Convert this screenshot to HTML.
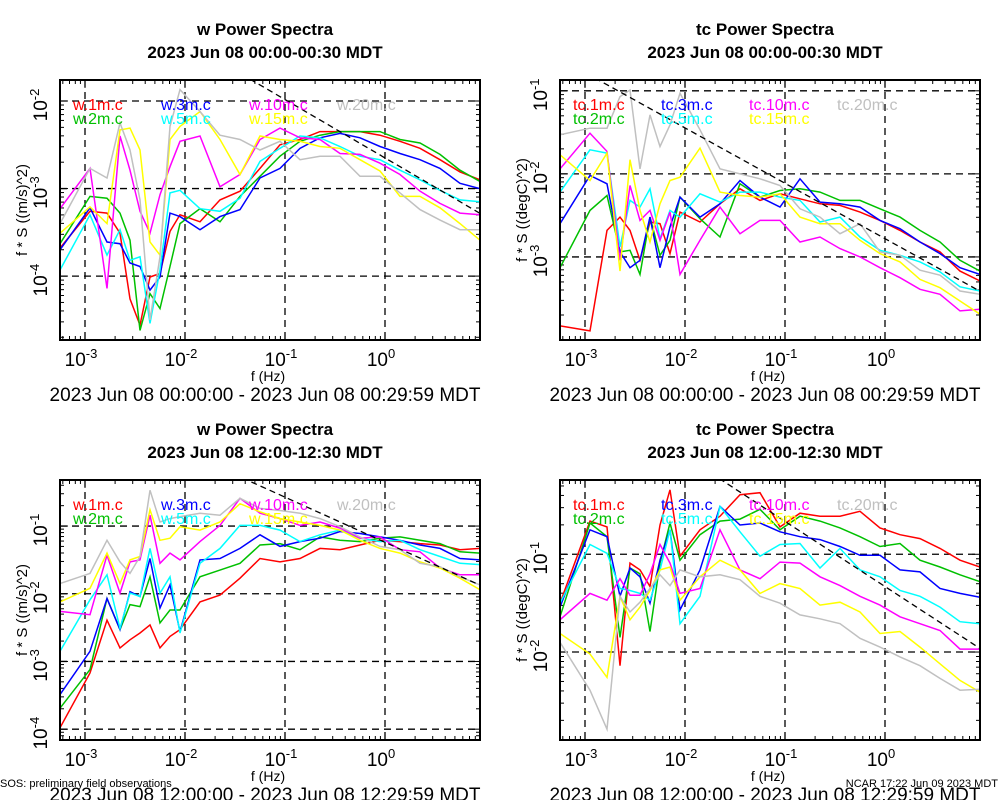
<!DOCTYPE html>
<html><head><meta charset="utf-8"><style>
body{margin:0;background:#fff;}
svg{display:block;font-family:"Liberation Sans",Arial,sans-serif;}
</style></head><body>
<svg id="chart" width="1000" height="800" viewBox="0 0 1000 800" xmlns="http://www.w3.org/2000/svg"></svg>
<script>
// frequency bins, log10(f / Hz)
const freqLog10 = [-3.25,-2.95,-2.78,-2.65,-2.55,-2.45,-2.35,-2.25,-2.15,-2.05,-1.85,-1.65,-1.45,-1.25,-1.05,-0.85,-0.65,-0.45,-0.25,-0.05,0.15,0.35,0.55,0.75,0.95];
const seriesNames = ["1m","2m","3m","5m","10m","15m","20m"];
const seriesColors = ["#ff0000","#00c000","#0000ff","#00ffff","#ff00ff","#ffff00","#c0c0c0"];
const xTickExps = [-3,-2,-1,0];

// Panel 1: w 00:00 (log10 of f*S)
const w00_1m  = [-3.68,-3.26,-3.28,-3.51,-4.26,-4.56,-4.01,-3.97,-3.49,-3.30,-3.38,-3.13,-3.03,-2.77,-2.50,-2.44,-2.35,-2.35,-2.35,-2.39,-2.46,-2.54,-2.67,-2.81,-2.90];
const w00_2m  = [-3.63,-3.09,-3.11,-3.28,-3.59,-4.62,-4.20,-4.37,-3.89,-3.40,-3.23,-3.38,-3.09,-2.86,-2.63,-2.46,-2.39,-2.35,-2.35,-2.35,-2.44,-2.48,-2.61,-2.79,-2.92];
const w00_3m  = [-3.70,-3.22,-3.61,-3.63,-3.85,-3.89,-4.16,-4.01,-3.28,-3.32,-3.47,-3.32,-3.24,-2.88,-2.77,-2.54,-2.42,-2.37,-2.42,-2.52,-2.60,-2.67,-2.77,-2.94,-3.00];
const w00_5m  = [-3.93,-3.30,-3.76,-3.47,-3.82,-3.78,-4.54,-3.93,-3.05,-3.02,-3.23,-3.26,-3.11,-2.69,-2.54,-2.40,-2.42,-2.52,-2.63,-2.67,-2.79,-2.90,-3.02,-3.13,-3.15];
const w00_10m = [-3.23,-2.77,-4.14,-2.40,-2.79,-3.26,-3.51,-3.07,-2.75,-2.46,-2.40,-2.98,-2.84,-2.44,-2.31,-2.42,-2.44,-2.60,-2.61,-2.71,-2.84,-3.03,-3.17,-3.28,-3.30];
const w00_15m = [-3.51,-3.21,-3.40,-2.33,-2.31,-2.56,-3.61,-3.76,-2.44,-2.29,-2.12,-2.44,-2.84,-2.40,-2.44,-2.46,-2.52,-2.54,-2.67,-2.80,-3.09,-3.09,-3.22,-3.40,-3.59];
const w00_20m = [-3.40,-2.77,-2.88,-2.25,-2.56,-3.13,-4.50,-3.78,-2.29,-1.87,-2.12,-2.39,-2.44,-2.56,-2.46,-2.67,-2.63,-2.63,-2.86,-2.86,-3.05,-3.24,-3.36,-3.47,-3.47];
// Panel 2: tc 00:00
const tc00_1m  = [-3.83,-3.89,-2.68,-2.52,-2.68,-3.04,-2.58,-2.60,-2.96,-2.46,-2.58,-2.36,-2.18,-2.32,-2.24,-2.30,-2.36,-2.38,-2.46,-2.56,-2.68,-2.82,-2.94,-3.17,-3.29];
const tc00_2m  = [-3.13,-2.44,-2.26,-2.94,-2.92,-3.21,-2.52,-2.98,-2.80,-2.28,-2.54,-2.76,-2.12,-2.28,-2.20,-2.18,-2.22,-2.32,-2.32,-2.42,-2.52,-2.68,-2.82,-3.04,-3.17];
const tc00_3m  = [-2.60,-2.02,-2.12,-2.94,-3.13,-3.04,-2.52,-3.13,-2.64,-2.28,-2.52,-2.36,-2.08,-2.28,-2.40,-2.06,-2.34,-2.36,-2.40,-2.56,-2.66,-2.82,-2.96,-3.13,-3.21];
const tc00_5m  = [-2.22,-1.71,-1.75,-2.88,-2.32,-2.40,-2.18,-2.78,-2.44,-2.52,-2.24,-2.34,-2.22,-2.22,-2.28,-2.32,-2.58,-2.52,-2.76,-2.92,-2.98,-3.06,-3.18,-3.36,-3.41];
const tc00_10m = [-1.94,-1.51,-1.73,-3.04,-2.14,-2.56,-2.44,-2.80,-2.46,-3.21,-2.80,-2.40,-2.72,-2.56,-2.56,-2.82,-2.76,-2.90,-3.00,-3.13,-3.25,-3.39,-3.45,-3.65,-3.63];
const tc00_15m = [-1.77,-2.08,-1.75,-3.17,-1.83,-2.44,-2.82,-2.36,-2.08,-2.04,-1.69,-2.22,-2.26,-2.28,-2.24,-2.52,-2.60,-2.60,-2.80,-2.96,-3.06,-3.27,-3.37,-3.53,-3.69];
const tc00_20m = [-1.53,-1.45,-1.45,-1.07,-0.99,-1.94,-1.29,-1.67,-1.41,-1.03,-1.47,-1.94,-2.00,-2.06,-2.14,-2.42,-2.52,-2.72,-2.60,-2.94,-2.98,-3.16,-3.22,-3.41,-3.45];
// Panel 3: w 12:00
const w12_1m  = [-3.98,-3.17,-2.39,-2.80,-2.68,-2.58,-2.46,-2.80,-2.63,-2.53,-2.12,-2.02,-1.77,-1.48,-1.53,-1.48,-1.33,-1.35,-1.28,-1.21,-1.23,-1.26,-1.28,-1.35,-1.33];
const w12_2m  = [-3.69,-3.12,-2.07,-2.53,-2.16,-2.19,-1.75,-2.43,-2.24,-2.24,-1.75,-1.65,-1.55,-1.28,-1.26,-1.35,-1.16,-1.21,-1.23,-1.18,-1.16,-1.21,-1.26,-1.38,-1.40];
const w12_3m  = [-3.49,-2.85,-2.07,-2.53,-1.97,-2.04,-1.48,-2.21,-1.87,-2.56,-1.50,-1.48,-1.33,-1.13,-1.30,-1.23,-1.18,-1.08,-1.11,-1.16,-1.21,-1.28,-1.33,-1.48,-1.50];
const w12_5m  = [-2.85,-2.09,-1.72,-2.51,-1.99,-2.04,-1.33,-1.99,-1.75,-2.58,-1.55,-1.33,-0.99,-0.99,-1.06,-1.23,-1.13,-1.06,-1.18,-1.23,-1.21,-1.35,-1.45,-1.55,-1.57];
const w12_10m = [-2.26,-2.31,-1.43,-1.99,-1.53,-1.50,-0.84,-1.55,-1.40,-1.50,-1.23,-0.99,-0.59,-0.81,-0.89,-0.99,-0.94,-1.03,-1.18,-1.16,-1.35,-1.38,-1.62,-1.72,-1.72];
const w12_15m = [-2.12,-1.92,-1.40,-1.85,-1.50,-1.45,-0.76,-1.21,-1.18,-1.01,-1.06,-0.94,-0.67,-0.79,-0.89,-0.94,-0.99,-1.06,-1.21,-1.33,-1.40,-1.53,-1.62,-1.77,-1.94];
const w12_20m = [-1.85,-1.70,-1.21,-1.53,-1.70,-1.45,-0.47,-0.94,-0.89,-0.86,-0.81,-0.84,-0.59,-0.74,-0.77,-0.81,-0.89,-1.01,-1.16,-1.30,-1.35,-1.55,-1.60,-1.75,-1.87];
// Panel 4: tc 12:00
const tc12_1m  = [-1.50,-0.66,-0.72,-2.14,-1.09,-1.16,-1.33,-0.70,-0.34,-1.02,-0.75,-0.61,-0.39,-0.37,-0.72,-0.58,-0.61,-0.61,-0.56,-0.73,-0.80,-0.84,-0.94,-1.06,-1.13];
const tc12_2m  = [-1.64,-0.68,-0.82,-1.85,-1.14,-1.20,-1.79,-1.09,-0.68,-1.06,-0.80,-0.66,-0.64,-0.54,-0.75,-0.61,-0.66,-0.73,-0.82,-0.92,-0.89,-1.06,-1.13,-1.21,-1.28];
const tc12_3m  = [-1.54,-0.75,-0.82,-1.43,-1.14,-1.23,-1.50,-1.06,-0.75,-1.57,-1.16,-0.51,-0.70,-0.68,-0.77,-0.82,-0.85,-0.92,-1.01,-1.01,-1.16,-1.18,-1.35,-1.40,-1.44];
const tc12_5m  = [-1.50,-0.90,-0.99,-1.35,-1.37,-1.40,-1.47,-1.16,-0.75,-1.71,-1.43,-0.51,-0.77,-1.02,-0.90,-0.89,-1.14,-0.94,-1.16,-1.23,-1.37,-1.43,-1.54,-1.69,-1.71];
const tc12_10m = [-1.67,-1.40,-1.47,-1.25,-1.42,-1.42,-1.20,-0.90,-1.09,-1.40,-1.35,-0.75,-1.16,-1.25,-1.08,-1.09,-1.23,-1.32,-1.43,-1.52,-1.64,-1.71,-1.78,-1.97,-1.97];
const tc12_15m = [-1.81,-2.02,-2.26,-1.43,-1.67,-1.54,-1.37,-1.16,-1.13,-1.47,-1.23,-1.06,-1.16,-1.40,-1.30,-1.35,-1.52,-1.49,-1.59,-1.81,-1.79,-1.95,-2.12,-2.29,-2.41];
const tc12_20m = [-1.90,-2.39,-2.79,-1.43,-1.59,-1.49,-1.35,-1.21,-1.32,-1.16,-1.23,-1.21,-1.26,-1.43,-1.50,-1.62,-1.66,-1.71,-1.86,-1.95,-2.05,-2.14,-2.27,-2.39,-2.38];
// -2/3 reference line intercepts (log10 at f=1Hz)
const refIntercepts = [-2.65,-2.78,-1.24,-1.33];

const NS="http://www.w3.org/2000/svg";
const svg=document.getElementById('chart');
function mk(tag,attrs,parent){const e=document.createElementNS(NS,tag);for(const k in attrs)e.setAttribute(k,attrs[k]);(parent||svg).appendChild(e);return e;}

const panels=[
 {var:"w",title1:"w Power Spectra",title2:"2023 Jun 08 00:00-00:30 MDT",foot:"2023 Jun 08 00:00:00 - 2023 Jun 08 00:29:59 MDT",ytitle:"f * S ((m/s)^2)",x0:60,x1:480,y0:80,y1:340,ymin:-4.73,ymax:-1.76,series:[w00_1m,w00_2m,w00_3m,w00_5m,w00_10m,w00_15m,w00_20m]},
 {var:"tc",title1:"tc Power Spectra",title2:"2023 Jun 08 00:00-00:30 MDT",foot:"2023 Jun 08 00:00:00 - 2023 Jun 08 00:29:59 MDT",ytitle:"f * S ((degC)^2)",x0:560,x1:980,y0:80,y1:340,ymin:-4.0,ymax:-0.87,series:[tc00_1m,tc00_2m,tc00_3m,tc00_5m,tc00_10m,tc00_15m,tc00_20m]},
 {var:"w",title1:"w Power Spectra",title2:"2023 Jun 08 12:00-12:30 MDT",foot:"2023 Jun 08 12:00:00 - 2023 Jun 08 12:29:59 MDT",ytitle:"f * S ((m/s)^2)",x0:60,x1:480,y0:480,y1:740,ymin:-4.16,ymax:-0.32,series:[w12_1m,w12_2m,w12_3m,w12_5m,w12_10m,w12_15m,w12_20m]},
 {var:"tc",title1:"tc Power Spectra",title2:"2023 Jun 08 12:00-12:30 MDT",foot:"2023 Jun 08 12:00:00 - 2023 Jun 08 12:29:59 MDT",ytitle:"f * S ((degC)^2)",x0:560,x1:980,y0:480,y1:740,ymin:-2.90,ymax:-0.24,series:[tc12_1m,tc12_2m,tc12_3m,tc12_5m,tc12_10m,tc12_15m,tc12_20m]}
];
const XMIN=-3.25,XMAX=0.95;

panels.forEach((p,pi)=>{
 const g=mk('g',{});
 
 
 const sx=v=>p.x0+(v-XMIN)/(XMAX-XMIN)*(p.x1-p.x0);
 const sy=v=>p.y1-(v-p.ymin)/(p.ymax-p.ymin)*(p.y1-p.y0);
 const cx=(p.x0+p.x1)/2-5;
 let t=mk('text',{x:cx,y:p.y0-45,'text-anchor':'middle','font-size':17,'font-weight':'bold'},g);t.textContent=p.title1;
 
 t=mk('text',{x:cx,y:p.y0-22,'text-anchor':'middle','font-size':17,'font-weight':'bold'},g);t.textContent=p.title2;
 
 const clipId='clip'+pi;
 const cp=mk('clipPath',{id:clipId},g);mk('rect',{x:p.x0,y:p.y0,width:p.x1-p.x0,height:p.y1-p.y0},cp);
 xTickExps.forEach(e=>{
  const x=sx(e);
  const l=mk('line',{x1:x,x2:x,y1:p.y0,y2:p.y1,stroke:'#000','stroke-width':1.3,'stroke-dasharray':'7,5'},g);
  
  const tx=mk('text',{x:x-4,y:p.y1+26,'text-anchor':'middle','font-size':19},g);
  tx.innerHTML='10<tspan dy="-8" font-size="13">'+e+'</tspan>';
  
 });
 for(let d=Math.floor(XMIN);d<=Math.ceil(XMAX);d++)for(let m=1;m<10;m++){
  const v=d+Math.log10(m);if(v<=XMIN||v>=XMAX)continue;const x=sx(v);const len=m==1?8:4;
  mk('line',{x1:x,x2:x,y1:p.y1,y2:p.y1-len,stroke:'#000'},g);mk('line',{x1:x,x2:x,y1:p.y0,y2:p.y0+len,stroke:'#000'},g);
 }
 for(let d=Math.floor(p.ymin);d<=Math.ceil(p.ymax);d++){
  for(let m=1;m<10;m++){
   const v=d+Math.log10(m);if(v<=p.ymin||v>=p.ymax)continue;const y=sy(v);const len=m==1?8:4;
   mk('line',{x1:p.x0,x2:p.x0+len,y1:y,y2:y,stroke:'#000'},g);mk('line',{x1:p.x1,x2:p.x1-len,y1:y,y2:y,stroke:'#000'},g);
  }
  if(d>p.ymin&&d<p.ymax){
   const y=sy(d);
   const l=mk('line',{x1:p.x0,x2:p.x1,y1:y,y2:y,stroke:'#000','stroke-width':1.3,'stroke-dasharray':'7,5'},g);
   
   const tx=mk('text',{x:0,y:0,'text-anchor':'middle','font-size':19,transform:'translate('+(p.x0-13)+','+(y+4)+') rotate(-90)'},g);
   tx.innerHTML='10<tspan dy="-8" font-size="13">'+d+'</tspan>';
   
  }
 }
 t=mk('text',{x:0,y:0,'text-anchor':'middle','font-size':15,transform:'translate('+(p.x0-33)+','+((p.y0+p.y1)/2)+') rotate(-90)'},g);t.textContent=p.ytitle;
 
 t=mk('text',{x:(p.x0+p.x1)/2-2,y:p.y1+41,'text-anchor':'middle','font-size':14},g);t.textContent='f (Hz)';
 
 t=mk('text',{x:(p.x0+p.x1)/2-5,y:p.y1+61,'text-anchor':'middle','font-size':19},g);t.textContent=p.foot;
 
 const sg=mk('g',{'clip-path':'url(#'+clipId+')'},g);
 p.series.forEach((s,si)=>{
  const d=s.map((v,i)=>(i?'L':'M')+sx(freqLog10[i]).toFixed(1)+','+sy(v).toFixed(1)).join('');
  const path=mk('path',{d:d,fill:'none',stroke:seriesColors[si],'stroke-width':1.5},sg);
  
  
 });
 const a=refIntercepts[pi];
 const rl=mk('line',{x1:sx(XMIN),y1:sy(a-2/3*XMIN),x2:sx(XMAX),y2:sy(a-2/3*XMAX),stroke:'#000','stroke-width':1.3,'stroke-dasharray':'6,4'},sg);
 
 const lx=[p.x0+13,p.x0+101,p.x0+189,p.x0+277];
 const order=[[0,1],[2,3],[4,5],[6]];
 order.forEach((col,ci)=>col.forEach((si,ri)=>{
  const lt=mk('text',{x:lx[ci],y:p.y0+30+ri*14,'font-size':16,fill:seriesColors[si]},g);
  lt.textContent=p.var+'.'+seriesNames[si]+'.c';
  
 }));
 const box=mk('rect',{x:p.x0,y:p.y0,width:p.x1-p.x0,height:p.y1-p.y0,fill:'none',stroke:'#000','stroke-width':2},g);
 
});
let f=mk('text',{x:0,y:787,'font-size':11});f.textContent='SOS: preliminary field observations';

f=mk('text',{x:998,y:787,'font-size':11,'text-anchor':'end'});f.textContent='NCAR 17:22 Jun 09 2023 MDT';

</script>
</body></html>
